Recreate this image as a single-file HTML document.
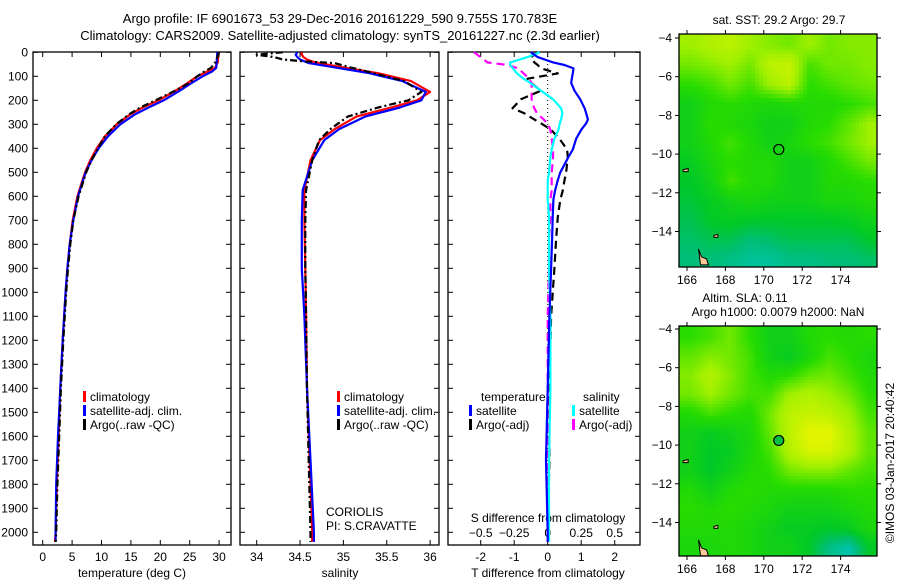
<!DOCTYPE html>
<html><head><meta charset="utf-8">
<style>
body{margin:0;background:#fff;}
svg{display:block;font-family:"Liberation Sans",sans-serif;}
text{font-size:12px;fill:#000;}
</style></head>
<body>
<svg id="chart" width="900" height="580" viewBox="0 0 900 580" xmlns="http://www.w3.org/2000/svg">
<text x="340" y="23" text-anchor="middle" style="font-size:13px">Argo profile: IF 6901673_53 29-Dec-2016 20161229_590 9.755S 170.783E</text>
<text x="340" y="40" text-anchor="middle" style="font-size:13px">Climatology: CARS2009. Satellite-adjusted climatology: synTS_20161227.nc (2.3d earlier)</text>
<g id="g"></g>
</svg>
<script>
// ---------- data ----------
const depthTicks=[0,100,200,300,400,500,600,700,800,900,1000,1100,1200,1300,1400,1500,1600,1700,1800,1900,2000];
const tempTicks=[0,5,10,15,20,25,30];
const salTicks=[34,34.5,35,35.5,36];
const tdiffTicks=[-2,-1,0,1,2];
const sdiffTicks=[-0.5,-0.25,0,0.25,0.5];
const lonTicks=[166,168,170,172,174];
const latTicks=[-4,-6,-8,-10,-12,-14];

const tDepth=[0,40,65,80,100,130,160,200,230,260,300,350,400,450,500,600,700,800,900,1000,1200,1400,1600,1800,2000,2040];
const tClim=[29.9,29.8,29.3,28.0,26.3,24.5,22.6,19.7,17.0,14.8,12.6,10.6,9.2,8.1,7.2,5.9,5.1,4.6,4.2,3.9,3.4,3.0,2.7,2.4,2.2,2.1];
const tSat=[29.7,29.6,29.5,28.8,27.2,25.2,23.3,20.6,18.0,15.6,13.2,11.1,9.5,8.3,7.3,6.0,5.2,4.6,4.2,3.9,3.4,3.0,2.6,2.3,2.2,2.2];
const tArgo=[30.0,29.4,28.6,27.5,26.3,24.8,22.5,19.2,16.6,14.6,12.5,10.6,9.4,8.3,7.4,6.1,5.2,4.7,4.3,4.0,3.5,3.1,2.8,2.5,2.3,2.2];

const sDepth=[0,10,20,30,38,45,60,87,120,165,200,230,268,320,366,450,574,700,900,1100,1400,1700,2000,2040];
const sClim=[34.52,34.52,34.54,34.58,34.64,34.72,34.95,35.4,35.78,36.0,35.85,35.55,35.15,34.9,34.73,34.62,34.55,34.55,34.56,34.57,34.58,34.61,34.64,34.64];
const sSat=[34.47,34.45,34.47,34.5,34.55,34.6,34.85,35.3,35.68,35.95,35.9,35.65,35.25,34.95,34.78,34.64,34.53,34.52,34.52,34.55,34.58,34.62,34.66,34.66];
const sArgo=[34.3,34.0,34.2,34.3,34.55,34.9,35.05,35.35,35.7,35.9,35.75,35.4,35.05,34.85,34.72,34.64,34.57,34.56,34.56,34.57,34.58,34.6,34.62,34.62];

const dDepth=[0,20,42,53,67,88,110,128,160,196,233,254,280,296,323,360,405,436,502,533,575,613,686,780,900,1100,1400,1700,2000,2040];
const dTsat=[-0.5,-0.3,0.16,0.5,0.77,0.75,0.72,0.7,0.8,0.97,1.1,1.15,1.2,1.15,1.0,0.85,0.75,0.62,0.37,0.3,0.22,0.17,0.15,0.13,0.1,0.05,0.0,-0.05,0.0,0.0];
const dTargo=[-0.3,-0.5,-0.4,-0.3,-0.2,0.3,-0.6,-0.5,-0.2,-0.8,-1.05,-0.7,-0.4,-0.2,0.1,0.35,0.58,0.6,0.55,0.5,0.45,0.38,0.3,0.25,0.2,0.1,0.05,0.05,0.0,0.0];
const dSsat=[-0.06,-0.15,-0.28,-0.28,-0.26,-0.23,-0.18,-0.13,-0.05,0.04,0.1,0.11,0.1,0.09,0.08,0.05,0.03,0.02,0.01,0.0,0.0,0.0,0.01,0.01,0.01,0.02,0.02,0.01,0.01,0.01];
const dSargo=[-0.55,-0.5,-0.45,-0.3,-0.22,-0.18,-0.14,-0.12,-0.12,-0.12,-0.1,-0.08,-0.03,0.0,0.02,0.03,0.04,0.04,0.03,0.03,0.03,0.02,0.02,0.01,0.01,0.0,0.0,0.0,0.0,0.0];

const sstGrid=[
[.75,.78,.8,.75,.72,.7,.75,.7,.72,.72],
[.7,.72,.75,.7,.8,.82,.65,.7,.7,.72],
[.62,.65,.7,.65,.75,.8,.62,.65,.68,.7],
[.55,.6,.62,.6,.58,.6,.6,.6,.62,.65],
[.55,.62,.6,.58,.55,.55,.6,.62,.68,.75],
[.55,.6,.65,.6,.55,.58,.62,.65,.7,.75],
[.52,.58,.62,.6,.6,.55,.55,.6,.65,.7],
[.5,.55,.65,.6,.6,.55,.55,.6,.6,.62],
[.48,.52,.55,.58,.55,.55,.55,.58,.58,.6],
[.45,.5,.52,.5,.5,.5,.5,.5,.52,.55],
[.42,.45,.45,.4,.42,.45,.45,.45,.45,.5],
[.4,.4,.38,.35,.35,.38,.38,.4,.4,.42]];
const slaGrid=[
[.62,.65,.7,.62,.55,.55,.6,.62,.6,.62],
[.68,.72,.7,.65,.55,.52,.58,.65,.62,.58],
[.72,.78,.72,.65,.6,.62,.68,.7,.65,.6],
[.7,.75,.7,.65,.65,.75,.78,.75,.7,.62],
[.6,.65,.62,.6,.7,.8,.82,.8,.75,.65],
[.55,.52,.55,.58,.68,.8,.88,.88,.78,.68],
[.55,.5,.52,.58,.65,.78,.85,.85,.78,.68],
[.55,.5,.55,.6,.62,.7,.72,.72,.68,.65],
[.6,.55,.6,.62,.6,.6,.6,.6,.62,.62],
[.62,.6,.62,.6,.58,.55,.55,.55,.58,.6],
[.6,.6,.6,.58,.55,.52,.52,.5,.52,.58],
[.58,.58,.6,.58,.55,.55,.5,.38,.32,.5]];
const argoLon=170.78, argoLat=-9.76;

// ---------- helpers ----------
const NS='http://www.w3.org/2000/svg';
const G=document.getElementById('g');
function mk(tag,attrs,parent){const e=document.createElementNS(NS,tag);for(const k in attrs)e.setAttribute(k,attrs[k]);(parent||G).appendChild(e);return e;}
function txt(x,y,s,anchor,parent){const t=mk('text',{x:x,y:y,'text-anchor':anchor||'start'},parent);t.textContent=s;return t;}
const TOP=52,BOT=545;
const yD=d=>52.3+d*0.24;

const panels=[
 {name:'temperature-panel',x0:33,x1:231,f:v=>42.7+v*5.88},
 {name:'salinity-panel',x0:240,x1:439,f:v=>256.7+(v-34)*86.7},
 {name:'difference-panel',x0:448,x1:640,f:v=>547.7+v*33.5,g:v=>547.7+v*134}
];
function frame(p){
 const r=mk('rect',{x:p.x0,y:TOP,width:p.x1-p.x0,height:BOT-TOP,fill:'none',stroke:'#000','stroke-width':1.3});
 
 
 depthTicks.forEach(d=>{const y=yD(d);mk('line',{x1:p.x0,x2:p.x0+5,y1:y,y2:y,stroke:'#000'});mk('line',{x1:p.x1,x2:p.x1-5,y1:y,y2:y,stroke:'#000'});});
}
function line(xs,ds,fx,color,dash,name){
 let s='';xs.forEach((v,i)=>{s+=(i?'L':'M')+fx(v).toFixed(1)+','+yD(ds[i]).toFixed(1);});
 const p=mk('path',{d:s,fill:'none',stroke:color,'stroke-width':2.2,'stroke-linejoin':'round'});
 if(dash)p.setAttribute('stroke-dasharray',dash);
 
 
}
function legend(x,y,color,label,name){
 const g=mk('g',{});
 
 
 mk('rect',{x:x,y:y-10,width:3,height:11,fill:color},g);
 txt(x+7,y,label,'start',g);
}

panels.forEach(frame);
depthTicks.forEach(d=>{txt(28,yD(d)+4,String(d),'end');});
// panel 1
const P1=panels[0];
tempTicks.forEach(v=>{const x=P1.f(v);mk('line',{x1:x,x2:x,y1:BOT,y2:BOT-5,stroke:'#000'});mk('line',{x1:x,x2:x,y1:TOP,y2:TOP+5,stroke:'#000'});txt(x,561,String(v),'middle');});
txt(132,577,'temperature (deg C)','middle');
line(tClim,tDepth,P1.f,'#ff0000',null,'temperature-climatology-line');
line(tSat,tDepth,P1.f,'#0000ff',null,'temperature-satellite-line');
line(tArgo,tDepth,P1.f,'#000',"7,3,2,3",'temperature-argo-line');
legend(83,401,'#ff0000','climatology','legend-climatology');
legend(83,415,'#0000ff','satellite-adj. clim.','legend-satellite');
legend(83,429,'#000','Argo(..raw -QC)','legend-argo');
// panel 2
const P2=panels[1];
salTicks.forEach(v=>{const x=P2.f(v);mk('line',{x1:x,x2:x,y1:BOT,y2:BOT-5,stroke:'#000'});mk('line',{x1:x,x2:x,y1:TOP,y2:TOP+5,stroke:'#000'});txt(x,561,String(v),'middle');});
txt(340,577,'salinity','middle');
line(sClim,sDepth,P2.f,'#ff0000',null,'salinity-climatology-line');
line(sSat,sDepth,P2.f,'#0000ff',null,'salinity-satellite-line');
line(sArgo,sDepth,P2.f,'#000',"7,3,2,3",'salinity-argo-line');
legend(337,401,'#ff0000','climatology','legend-sal-climatology');
legend(337,415,'#0000ff','satellite-adj. clim.','legend-sal-satellite');
legend(337,429,'#000','Argo(..raw -QC)','legend-sal-argo');
txt(326,516,'CORIOLIS','start');
txt(326,530,'PI: S.CRAVATTE','start');
// panel 3
const P3=panels[2];
tdiffTicks.forEach(v=>{const x=P3.f(v);mk('line',{x1:x,x2:x,y1:BOT,y2:BOT-5,stroke:'#000'});mk('line',{x1:x,x2:x,y1:TOP,y2:TOP+5,stroke:'#000'});txt(x,561,String(v),'middle');});
sdiffTicks.forEach(v=>{const x=P3.g(v);txt(x,537,String(v).replace('-','−'),'middle');});
txt(548,522,'S difference from climatology','middle');
txt(548,577,'T difference from climatology','middle');
mk('line',{x1:P3.f(0),x2:P3.f(0),y1:TOP,y2:BOT,stroke:'#000','stroke-dasharray':'1,3'});
line(dTargo,dDepth,P3.f,'#000',"8,5",'t-diff-argo-line');
line(dSargo,dDepth,P3.g,'#ff00ff',"8,5",'s-diff-argo-line');
line(dSsat,dDepth,P3.g,'#00ffff',null,'s-diff-satellite-line');
line(dTsat,dDepth,P3.f,'#0000ff',null,'t-diff-satellite-line');
txt(481,401,'temperature','start');
txt(583,401,'salinity','start');
legend(469,415,'#0000ff','satellite','legend-t-satellite');
legend(469,429,'#000','Argo(-adj)','legend-t-argo');
legend(572,415,'#00ffff','satellite','legend-s-satellite');
legend(572,429,'#ff00ff','Argo(-adj)','legend-s-argo');

// ---------- maps ----------
const stops=[[0.25,[0,200,220]],[0.4,[0,190,120]],[0.5,[0,200,40]],[0.62,[40,220,0]],[0.75,[160,240,0]],[0.88,[230,245,0]],[1,[250,160,0]]];
function cmap(v){for(let i=1;i<stops.length;i++){if(v<=stops[i][0]){const a=stops[i-1],b=stops[i];const t=Math.max(0,(v-a[0])/(b[0]-a[0]));return 'rgb('+a[1].map((c,k)=>Math.round(c+(b[1][k]-c)*t)).join(',')+')';}}return 'rgb(250,160,0)';}
function drawMap(name,grid,x0,x1,y0,y1,lat0,cell){
 const gm=mk('g',{});
 
 
 const lonX=lo=>687+(lo-166)*19.2;
 const latY=la=>lat0+(-4-la)*19.35;
 const R=grid.length,C=grid[0].length;
 for(let y=y0;y<y1;y+=cell){for(let x=x0;x<x1;x+=cell){
  let gx=(x-x0)/(x1-x0)*C-0.5, gy=(y-y0)/(y1-y0)*R-0.5;
  gx=Math.max(0,Math.min(C-1,gx));gy=Math.max(0,Math.min(R-1,gy));
  const i0=Math.floor(gy),j0=Math.floor(gx),i1=Math.min(R-1,i0+1),j1=Math.min(C-1,j0+1),fy=gy-i0,fx=gx-j0;
  const v=grid[i0][j0]*(1-fx)*(1-fy)+grid[i0][j1]*fx*(1-fy)+grid[i1][j0]*(1-fx)*fy+grid[i1][j1]*fx*fy;
  mk('rect',{x:x,y:y,width:Math.min(cell,x1-x)+0.3,height:Math.min(cell,y1-y)+0.3,fill:cmap(v)},gm);
 }}
 mk('path',{d:'M'+lonX(166.6)+','+latY(-14.9)+' l3,8 l5,2 l2,6 l-8,0 z',fill:'#ffc896',stroke:'#000','stroke-width':1},gm);
 mk('path',{d:'M'+lonX(165.8)+','+latY(-10.8)+' l5,-1 l0,3 l-5,0 z',fill:'#ffc896',stroke:'#000','stroke-width':1},gm);
 mk('path',{d:'M'+lonX(167.4)+','+latY(-14.2)+' l4,-1 l0,3 l-4,0 z',fill:'#ffc896',stroke:'#000','stroke-width':1},gm);
 mk('rect',{x:x0,y:y0,width:x1-x0,height:y1-y0,fill:'none',stroke:'#000','stroke-width':1.3},gm);
 lonTicks.forEach(lo=>{const x=lonX(lo);mk('line',{x1:x,x2:x,y1:y1,y2:y1+4,stroke:'#000'},gm);mk('line',{x1:x,x2:x,y1:y0,y2:y0-4,stroke:'#000'},gm);txt(x,y1+17,String(lo),'middle',gm);});
 latTicks.forEach(la=>{const y=latY(la);mk('line',{x1:x0,x2:x0-4,y1:y,y2:y,stroke:'#000'},gm);mk('line',{x1:x1,x2:x1+4,y1:y,y2:y,stroke:'#000'},gm);txt(x0-7,y+4,String(la).replace('-','−'),'end',gm);});
 return {lonX,latY,gm};
}
const m1=drawMap('sst-map',sstGrid,679,877,34,267,38,4);
const c1=mk('circle',{cx:m1.lonX(argoLon),cy:m1.latY(argoLat),r:5,fill:'none',stroke:'#000','stroke-width':1.2});


const m2=drawMap('sla-map',slaGrid,679,877,326,556,329,3);
const c2=mk('circle',{cx:m2.lonX(argoLon),cy:m2.latY(argoLat),r:5,fill:'#00c040',stroke:'#000','stroke-width':1.2});


txt(779,24,'sat. SST: 29.2  Argo: 29.7','middle');
txt(745,302,'Altim. SLA: 0.11','middle');
txt(778,316,'Argo h1000: 0.0079 h2000: NaN','middle');
const cr=txt(0,0,'©IMOS 03-Jan-2017 20:40:42','middle');
cr.setAttribute('transform','translate(894,463) rotate(-90)');

</script>
</body></html>
